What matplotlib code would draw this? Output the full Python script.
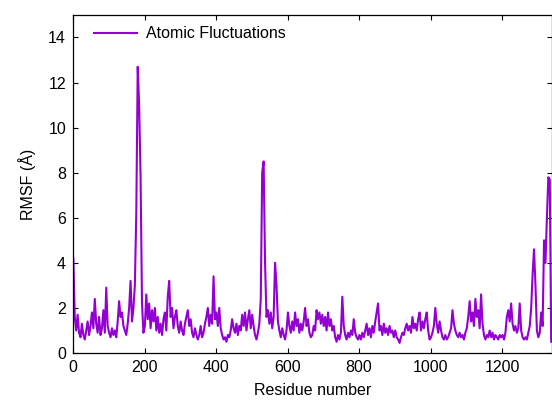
import numpy as np
import matplotlib
matplotlib.use('Agg')
import matplotlib.pyplot as plt

#Here we set the style of the plot (gnuplot-like look)
plt.rc('font', family=['Liberation Sans', 'DejaVu Sans'])
plt.rc('axes', labelsize=11.5)
plt.rc('xtick', labelsize=11.5)
plt.rc('ytick', labelsize=11.5)
plt.rc('legend', fontsize=11.5)

#Residue numbers (every 4th residue) and RMSF values
residues = np.arange(1, 1338, 4)
rmsf = [
    # 1 - 97
    4.2, 1.6, 1.0, 1.7, 0.9, 0.7, 1.3, 0.8, 0.6, 1.0, 1.4, 0.8, 1.2, 1.8, 1.1, 2.4, 1.3, 0.9, 1.6, 0.8, 1.1, 1.9, 0.9, 2.9, 1.2,
    # 101 - 197
    0.9, 0.7, 1.1, 0.8, 1.0, 0.7, 1.4, 2.3, 1.6, 1.8, 1.2, 1.0, 0.8, 1.3, 2.0, 3.2, 1.4, 2.0, 3.0, 6.2, 12.7, 11.0, 7.8, 2.2, 0.9,
    # 201 - 297
    1.2, 2.6, 1.5, 2.2, 1.1, 1.9, 1.4, 2.0, 1.0, 1.6, 0.9, 1.3, 0.8, 1.5, 1.8, 1.0, 2.5, 3.2, 1.6, 2.0, 1.1, 1.6, 1.9, 1.2, 0.9,
    # 301 - 397
    1.4, 1.0, 0.8, 1.3, 1.6, 1.9, 1.2, 1.5, 0.9, 0.7, 1.1, 0.8, 0.6, 0.8, 1.2, 0.7, 0.9, 1.3, 1.6, 2.0, 1.2, 1.7, 1.3, 3.4, 1.5,
    # 401 - 497
    1.8, 1.2, 2.0, 1.1, 0.8, 0.6, 0.7, 0.5, 0.8, 0.7, 1.0, 1.5, 1.1, 0.9, 1.3, 0.8, 1.2, 1.0, 1.7, 1.2, 1.8, 1.0, 1.5, 1.9, 1.1,
    # 501 - 597
    1.7, 1.2, 0.8, 0.6, 0.9, 1.3, 2.4, 8.0, 8.5, 4.0, 1.6, 1.9, 1.3, 1.8, 1.1, 1.6, 4.0, 3.0, 1.4, 1.0, 0.7, 1.1, 0.8, 0.6, 1.0,
    # 601 - 697
    1.8, 1.2, 0.9, 1.4, 1.0, 1.8, 1.2, 1.5, 0.9, 1.3, 1.0, 1.4, 2.0, 1.2, 1.5, 0.9, 0.7, 0.8, 1.2, 1.0, 1.9, 1.5, 1.8, 1.3, 1.7,
    # 701 - 797
    1.2, 1.6, 1.0, 1.8, 1.2, 1.5, 1.0, 1.2, 0.7, 0.5, 0.8, 0.6, 0.9, 2.5, 1.2, 0.8, 0.6, 0.9, 0.7, 1.0, 0.8, 1.5, 0.9, 0.7, 0.6,
    # 801 - 897
    0.8, 0.6, 0.9, 0.7, 1.0, 1.3, 0.8, 1.1, 0.7, 1.2, 0.9, 1.4, 1.8, 2.2, 1.0, 1.2, 0.8, 1.3, 0.9, 1.1, 0.8, 1.2, 0.9, 1.0, 0.7,
    # 901 - 997
    1.0, 0.7, 0.6, 0.45, 0.7, 0.9, 0.8, 1.1, 1.3, 1.0, 1.2, 0.9, 1.6, 1.1, 1.3, 1.0, 1.5, 1.8, 1.0, 1.4, 1.1, 1.5, 1.8, 1.0, 0.6,
    # 1001 - 1097
    0.7, 0.9, 1.2, 2.0, 1.3, 0.9, 1.4, 1.0, 0.7, 0.6, 0.8, 0.6, 0.7, 0.9, 1.1, 1.9, 1.3, 1.0, 0.8, 0.7, 0.9, 0.7, 0.8, 0.6, 0.9,
    # 1101 - 1197
    1.1, 1.6, 2.3, 1.4, 1.8, 1.2, 2.4, 1.6, 1.9, 1.1, 2.6, 1.3, 0.8, 0.6, 0.8, 0.7, 1.0, 0.7, 0.9, 0.6, 0.8, 0.7, 0.6, 0.8, 0.7,
    # 1201 - 1297
    0.8, 0.6, 0.9, 1.6, 1.9, 1.4, 2.2, 1.3, 1.0, 1.2, 0.9, 1.1, 2.2, 1.0, 0.7, 0.6, 0.7, 0.6, 0.9, 1.2, 2.0, 3.5, 4.6, 3.0, 1.0,
    # 1301 - 1337
    0.7, 0.9, 1.8, 1.2, 5.0, 4.0, 6.0, 7.8, 7.7, 0.5,
]

x_ticks = [0, 200, 400, 600, 800, 1000, 1200]
y_ticks = [0, 2, 4, 6, 8, 10, 12, 14]

fig = plt.figure(figsize=(5.52, 4.03), dpi=100)
ax = fig.add_axes([0.1322, 0.124, 0.867, 0.839])

ax.plot(residues, rmsf, color='#9400D3', lw=1.5, label='Atomic Fluctuations')

ax.set_xlim(0, 1338)
ax.set_ylim(0, 15)
ax.set_xticks(x_ticks)
ax.set_yticks(y_ticks)
ax.tick_params(direction='in', length=3.5, width=0.8, top=True, right=True, pad=5)
for s in ax.spines.values():
    s.set_linewidth(0.9)

ax.set_xlabel('Residue number', labelpad=6)
ax.set_ylabel('RMSF (Å)', labelpad=9)

ax.legend(loc='upper left', frameon=False, handlelength=2.7, handletextpad=0.6,
          borderaxespad=0.3, bbox_to_anchor=(0.02, 1.0))

plt.savefig('out.png', dpi=100)
